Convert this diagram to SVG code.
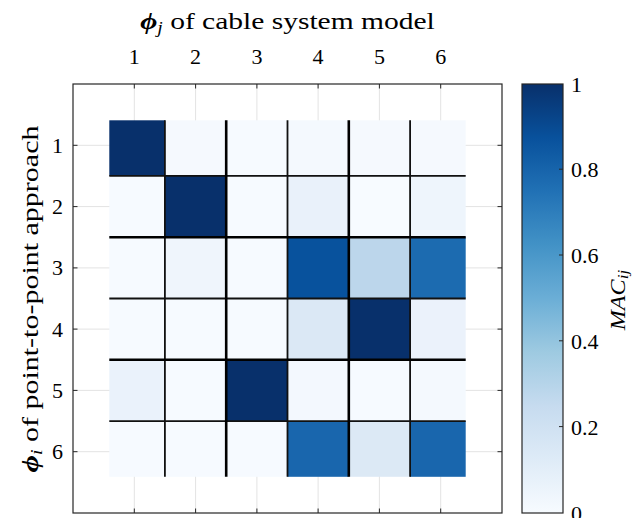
<svg xmlns="http://www.w3.org/2000/svg" width="633" height="518" viewBox="0 0 633 518">
<style>
text{font-family:"Liberation Serif","DejaVu Serif",serif;fill:#000}
.tick{font-size:22px}
.lab{font-size:24px}
.grid{stroke:#e3e3e3;stroke-width:1;fill:none}
.ax{stroke:#262626;stroke-width:1.2;fill:none}
.tk{stroke:#262626;stroke-width:1;fill:none}
.thin{stroke:#111;stroke-width:1.8;fill:none}
.thick{stroke:#000;stroke-width:2.6;fill:none}
.phi{font-weight:bold;font-style:italic}
</style>
<defs>
<linearGradient id="blues" x1="0" y1="1" x2="0" y2="0">
<stop offset="0" stop-color="#f7fbff"/>
<stop offset="0.125" stop-color="#deebf7"/>
<stop offset="0.25" stop-color="#c6dbef"/>
<stop offset="0.375" stop-color="#9ecae1"/>
<stop offset="0.5" stop-color="#6baed6"/>
<stop offset="0.625" stop-color="#4292c6"/>
<stop offset="0.75" stop-color="#2171b5"/>
<stop offset="0.875" stop-color="#08519c"/>
<stop offset="1" stop-color="#08306b"/>
</linearGradient>
</defs>
<rect width="633" height="518" fill="#fff"/>
<g id="axes-grid">
<path class="grid" d="M134.3 84V513M195.6 84V513M256.9 84V513M318.1 84V513M379.4 84V513M440.7 84V513M73 145.3H502M73 206.6H502M73 267.9H502M73 329.1H502M73 390.4H502M73 451.7H502"/>
</g>
<g id="cells">
<rect x="109.3" y="120.3" width="55.6" height="55.6" fill="#08306b"/>
<rect x="164.9" y="120.3" width="61.3" height="55.6" fill="#f5f9fe"/>
<rect x="226.2" y="120.3" width="61.3" height="55.6" fill="#f6faff"/>
<rect x="287.5" y="120.3" width="61.3" height="55.6" fill="#f4f9fe"/>
<rect x="348.8" y="120.3" width="61.3" height="55.6" fill="#f5f9fe"/>
<rect x="410.1" y="120.3" width="55.6" height="55.6" fill="#f5f9fe"/>

<rect x="109.3" y="175.9" width="55.6" height="61.3" fill="#f6faff"/>
<rect x="164.9" y="175.9" width="61.3" height="61.3" fill="#08306b"/>
<rect x="226.2" y="175.9" width="61.3" height="61.3" fill="#f6faff"/>
<rect x="287.5" y="175.9" width="61.3" height="61.3" fill="#e9f1fa"/>
<rect x="348.8" y="175.9" width="61.3" height="61.3" fill="#f7fbff"/>
<rect x="410.1" y="175.9" width="55.6" height="61.3" fill="#eef5fc"/>

<rect x="109.3" y="237.2" width="55.6" height="61.3" fill="#f6faff"/>
<rect x="164.9" y="237.2" width="61.3" height="61.3" fill="#eff5fc"/>
<rect x="226.2" y="237.2" width="61.3" height="61.3" fill="#f6faff"/>
<rect x="287.5" y="237.2" width="61.3" height="61.3" fill="#08529d"/>
<rect x="348.8" y="237.2" width="61.3" height="61.3" fill="#bcd6eb"/>
<rect x="410.1" y="237.2" width="55.6" height="61.3" fill="#1c6bb0"/>

<rect x="109.3" y="298.5" width="55.6" height="61.3" fill="#f6faff"/>
<rect x="164.9" y="298.5" width="61.3" height="61.3" fill="#f6faff"/>
<rect x="226.2" y="298.5" width="61.3" height="61.3" fill="#f6faff"/>
<rect x="287.5" y="298.5" width="61.3" height="61.3" fill="#dbe8f5"/>
<rect x="348.8" y="298.5" width="61.3" height="61.3" fill="#08306b"/>
<rect x="410.1" y="298.5" width="55.6" height="61.3" fill="#ebf2fb"/>

<rect x="109.3" y="359.8" width="55.6" height="61.3" fill="#eaf2fb"/>
<rect x="164.9" y="359.8" width="61.3" height="61.3" fill="#f6faff"/>
<rect x="226.2" y="359.8" width="61.3" height="61.3" fill="#08306b"/>
<rect x="287.5" y="359.8" width="61.3" height="61.3" fill="#f3f8fe"/>
<rect x="348.8" y="359.8" width="61.3" height="61.3" fill="#f6faff"/>
<rect x="410.1" y="359.8" width="55.6" height="61.3" fill="#f4f9fe"/>

<rect x="109.3" y="421.1" width="55.6" height="55.7" fill="#f6faff"/>
<rect x="164.9" y="421.1" width="61.3" height="55.7" fill="#f6faff"/>
<rect x="226.2" y="421.1" width="61.3" height="55.7" fill="#f6faff"/>
<rect x="287.5" y="421.1" width="61.3" height="55.7" fill="#1966ad"/>
<rect x="348.8" y="421.1" width="61.3" height="55.7" fill="#dce9f5"/>
<rect x="410.1" y="421.1" width="55.6" height="55.7" fill="#1966ad"/>
</g>
<g id="connectors">
<path class="thin" d="M164.9 120.3V476.8M287.5 120.3V476.8M410.1 120.3V476.8M109.3 175.9H465.7M109.3 298.5H465.7M109.3 421.1H465.7"/>
<path class="thick" d="M226.2 120.3V476.8M348.8 120.3V476.8M109.3 237.2H465.7M109.3 359.8H465.7"/>
</g>
<g id="axes-frame">
<rect class="ax" x="73" y="84" width="429" height="429"/>
<path class="tk" d="M134.3 513v-4.5M195.6 513v-4.5M256.9 513v-4.5M318.1 513v-4.5M379.4 513v-4.5M440.7 513v-4.5M134.3 84v4.5M195.6 84v4.5M256.9 84v4.5M318.1 84v4.5M379.4 84v4.5M440.7 84v4.5M73 145.3h4.5M73 206.6h4.5M73 267.9h4.5M73 329.1h4.5M73 390.4h4.5M73 451.7h4.5M502 145.3h-4.5M502 206.6h-4.5M502 267.9h-4.5M502 329.1h-4.5M502 390.4h-4.5M502 451.7h-4.5"/>
</g>
<g id="x-ticklabels" class="tick" text-anchor="middle">
<text x="134.3" y="64">1</text>
<text x="195.6" y="64">2</text>
<text x="256.9" y="64">3</text>
<text x="318.1" y="64">4</text>
<text x="379.4" y="64">5</text>
<text x="440.7" y="64">6</text>
</g>
<g id="y-ticklabels" class="tick" text-anchor="end">
<text x="63" y="153">1</text>
<text x="63" y="214">2</text>
<text x="63" y="275">3</text>
<text x="63" y="337">4</text>
<text x="63" y="398">5</text>
<text x="63" y="459">6</text>
</g>
<g id="title">
<text class="lab" transform="translate(287.5 29) scale(1.23 1)" text-anchor="middle"><tspan class="phi">ϕ</tspan><tspan font-size="16" font-style="italic" dy="4">j</tspan><tspan dy="-4"> of cable system model</tspan></text>
</g>
<g id="ylabel">
<text class="lab" transform="translate(38 299) rotate(-90) scale(1.25 1)" text-anchor="middle"><tspan class="phi">ϕ</tspan><tspan font-size="16" font-style="italic" dy="4">i</tspan><tspan dy="-4"> of point-to-point approach</tspan></text>
</g>
<g id="colorbar">
<rect x="522" y="84" width="41" height="429" fill="url(#blues)" stroke="#262626" stroke-width="1.2"/>
<path class="tk" d="M563 169.2h-4M563 255h-4M563 340.8h-4M563 426.6h-4"/>
<g class="tick">
<text x="571" y="92">1</text>
<text x="571" y="177">0.8</text>
<text x="571" y="263">0.6</text>
<text x="571" y="349">0.4</text>
<text x="571" y="435">0.2</text>
<text x="571" y="521">0</text>
</g>
<text transform="translate(625 300) rotate(-90) scale(1.15 1)" text-anchor="middle" font-size="21" font-style="italic">MAC<tspan font-size="15" dy="3">ij</tspan></text>
</g>
</svg>
